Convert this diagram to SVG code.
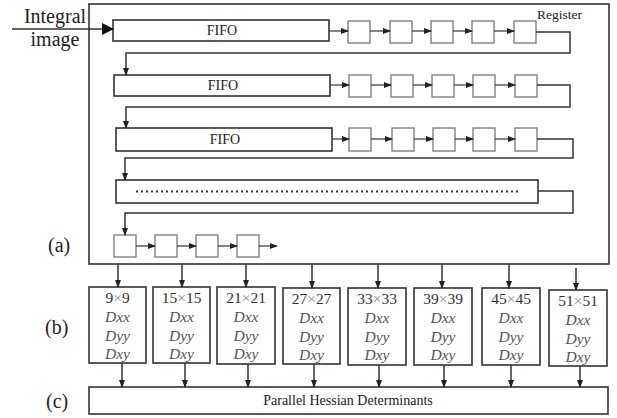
<svg xmlns="http://www.w3.org/2000/svg" width="617" height="418" viewBox="0 0 617 418">
<style>
.bx{fill:#fff;stroke:#333;stroke-width:1.6}
.rg{fill:#fff;stroke:#777;stroke-width:1.3}
.ln{fill:none;stroke:#333;stroke-width:1.5}
text{font-family:"Liberation Serif","Times New Roman","DejaVu Serif",serif}
.t{fill:#222}
.it{font-style:italic;fill:#555;font-size:15.5px;text-anchor:middle}
.sz{fill:#333;font-size:15.5px;text-anchor:middle}
.x{fill:#888}
</style>
<defs>
<marker id="a" markerWidth="8" markerHeight="6" refX="7" refY="3" orient="auto" markerUnits="userSpaceOnUse"><path d="M0,0 L8,3 L0,6 z" fill="#222"/></marker>
<marker id="big" markerWidth="12" markerHeight="12" refX="11" refY="6" orient="auto" markerUnits="userSpaceOnUse"><path d="M0,0 L12,6 L0,12 z" fill="#111"/></marker>
</defs>
<g id="outer"><rect class="bx" x="89" y="4" width="520" height="260"/></g>
<g id="labels">
<text class="t" x="55" y="23" font-size="20" text-anchor="middle">Integral</text>
<text class="t" x="55" y="46" font-size="20" text-anchor="middle">image</text>
<text class="t" x="537" y="19" font-size="13.5">Register</text>
<text class="t" x="48" y="252" font-size="20">(a)</text>
<text class="t" x="45" y="334" font-size="20">(b)</text>
<text class="t" x="46" y="408" font-size="20">(c)</text>
</g>
<g id="fifo1"><rect class="bx" x="113" y="20" width="216" height="21"/><text class="t" x="222" y="35" font-size="14" text-anchor="middle">FIFO</text></g>
<g id="fifo2"><rect class="bx" x="114" y="75" width="216" height="21"/><text class="t" x="223" y="90" font-size="14" text-anchor="middle">FIFO</text></g>
<g id="fifo3"><rect class="bx" x="116" y="128" width="216" height="23"/><text class="t" x="225" y="144" font-size="14" text-anchor="middle">FIFO</text></g>
<g id="fifoN"><rect class="bx" x="116" y="180" width="422" height="23"/><line x1="136" y1="191.5" x2="520" y2="191.5" stroke="#333" stroke-width="1.8" stroke-dasharray="2,3"/></g>
<g id="regs1">
<rect class="rg" x="348" y="21" width="22" height="22"/><rect class="rg" x="390" y="21" width="22" height="22"/><rect class="rg" x="431" y="21" width="22" height="22"/><rect class="rg" x="472" y="21" width="22" height="22"/><rect class="rg" x="514" y="21" width="22" height="22"/>
</g>
<g id="regs2">
<rect class="rg" x="349" y="75" width="22" height="22"/><rect class="rg" x="391" y="75" width="22" height="22"/><rect class="rg" x="432" y="75" width="22" height="22"/><rect class="rg" x="473" y="75" width="22" height="22"/><rect class="rg" x="515" y="75" width="22" height="22"/>
</g>
<g id="regs3">
<rect class="rg" x="349" y="128" width="22" height="23"/><rect class="rg" x="392" y="128" width="22" height="23"/><rect class="rg" x="433" y="128" width="22" height="23"/><rect class="rg" x="473" y="128" width="22" height="23"/><rect class="rg" x="515" y="128" width="22" height="23"/>
</g>
<g id="regs4">
<rect class="rg" x="114" y="235" width="22" height="22"/><rect class="rg" x="155" y="235" width="22" height="22"/><rect class="rg" x="196" y="235" width="22" height="22"/><rect class="rg" x="237" y="235" width="22" height="22"/>
</g>
<g id="b1"><rect class="bx" x="89" y="287" width="57" height="76"/><text class="sz" x="117.5" y="303">9<tspan class="x">×</tspan>9</text><text class="it" x="117.5" y="322">Dxx</text><text class="it" x="117.5" y="341">Dyy</text><text class="it" x="117.5" y="359">Dxy</text></g>
<g id="b2"><rect class="bx" x="153" y="287" width="57" height="76"/><text class="sz" x="181.5" y="303">15<tspan class="x">×</tspan>15</text><text class="it" x="181.5" y="322">Dxx</text><text class="it" x="181.5" y="341">Dyy</text><text class="it" x="181.5" y="359">Dxy</text></g>
<g id="b3"><rect class="bx" x="217" y="287" width="58" height="77"/><text class="sz" x="246" y="303">21<tspan class="x">×</tspan>21</text><text class="it" x="246" y="322">Dxx</text><text class="it" x="246" y="341">Dyy</text><text class="it" x="246" y="359">Dxy</text></g>
<g id="b4"><rect class="bx" x="283" y="288" width="57" height="76"/><text class="sz" x="311.5" y="304">27<tspan class="x">×</tspan>27</text><text class="it" x="311.5" y="323">Dxx</text><text class="it" x="311.5" y="342">Dyy</text><text class="it" x="311.5" y="360">Dxy</text></g>
<g id="b5"><rect class="bx" x="348" y="288" width="58" height="77"/><text class="sz" x="377" y="304">33<tspan class="x">×</tspan>33</text><text class="it" x="377" y="323">Dxx</text><text class="it" x="377" y="342">Dyy</text><text class="it" x="377" y="360">Dxy</text></g>
<g id="b6"><rect class="bx" x="414" y="288" width="58" height="77"/><text class="sz" x="443" y="304">39<tspan class="x">×</tspan>39</text><text class="it" x="443" y="323">Dxx</text><text class="it" x="443" y="342">Dyy</text><text class="it" x="443" y="360">Dxy</text></g>
<g id="b7"><rect class="bx" x="482" y="288" width="58" height="77"/><text class="sz" x="511" y="304">45<tspan class="x">×</tspan>45</text><text class="it" x="511" y="323">Dxx</text><text class="it" x="511" y="342">Dyy</text><text class="it" x="511" y="360">Dxy</text></g>
<g id="b8"><rect class="bx" x="549" y="290" width="58" height="76"/><text class="sz" x="578" y="306">51<tspan class="x">×</tspan>51</text><text class="it" x="578" y="325">Dxx</text><text class="it" x="578" y="344">Dyy</text><text class="it" x="578" y="362">Dxy</text></g>
<g id="c"><rect class="bx" x="89" y="387" width="519" height="27"/><text class="t" x="348" y="405" font-size="14" text-anchor="middle">Parallel Hessian Determinants</text></g>
<g id="connectors">
<line class="ln" x1="12" y1="29" x2="113" y2="29" marker-end="url(#big)"/>
<g stroke="#333" stroke-width="1.2" marker-end="url(#a)">
<line x1="329" y1="31" x2="348" y2="31"/><line x1="370" y1="31" x2="390" y2="31"/><line x1="412" y1="31" x2="431" y2="31"/><line x1="453" y1="31" x2="472" y2="31"/><line x1="494" y1="31" x2="514" y2="31"/>
<line x1="330" y1="85" x2="349" y2="85"/><line x1="371" y1="85" x2="391" y2="85"/><line x1="413" y1="85" x2="432" y2="85"/><line x1="454" y1="85" x2="473" y2="85"/><line x1="495" y1="85" x2="515" y2="85"/>
<line x1="332" y1="139" x2="349" y2="139"/><line x1="371" y1="139" x2="392" y2="139"/><line x1="414" y1="139" x2="433" y2="139"/><line x1="455" y1="139" x2="473" y2="139"/><line x1="495" y1="139" x2="515" y2="139"/>
<line x1="136" y1="246" x2="155" y2="246"/><line x1="177" y1="246" x2="196" y2="246"/><line x1="218" y1="246" x2="237" y2="246"/><line x1="259" y1="246" x2="277" y2="246"/>
</g>
<polyline class="ln" points="536,32 570,32 570,53 126,53 126,75" marker-end="url(#a)"/>
<polyline class="ln" points="537,85 570,85 570,107 126,107 126,128" marker-end="url(#a)"/>
<polyline class="ln" points="537,139 573,139 573,158 125,158 125,180" marker-end="url(#a)"/>
<polyline class="ln" points="538,191 573,191 573,213 125,213 125,235" marker-end="url(#a)"/>
<g stroke="#333" stroke-width="1.5" marker-end="url(#a)">
<line x1="118" y1="264" x2="118" y2="287"/><line x1="182" y1="264" x2="182" y2="287"/><line x1="246" y1="264" x2="246" y2="287"/><line x1="312" y1="264" x2="312" y2="288"/><line x1="378" y1="264" x2="378" y2="288"/><line x1="442" y1="264" x2="442" y2="288"/><line x1="509" y1="264" x2="509" y2="288"/><line x1="576" y1="268" x2="576" y2="290"/>
<line x1="122" y1="363" x2="122" y2="387"/><line x1="185" y1="363" x2="185" y2="387"/><line x1="248" y1="364" x2="248" y2="387"/><line x1="314" y1="364" x2="314" y2="387"/><line x1="379" y1="365" x2="379" y2="387"/><line x1="444" y1="365" x2="444" y2="387"/><line x1="511" y1="365" x2="511" y2="387"/><line x1="580" y1="366" x2="580" y2="387"/>
</g>
</g>
</svg>
